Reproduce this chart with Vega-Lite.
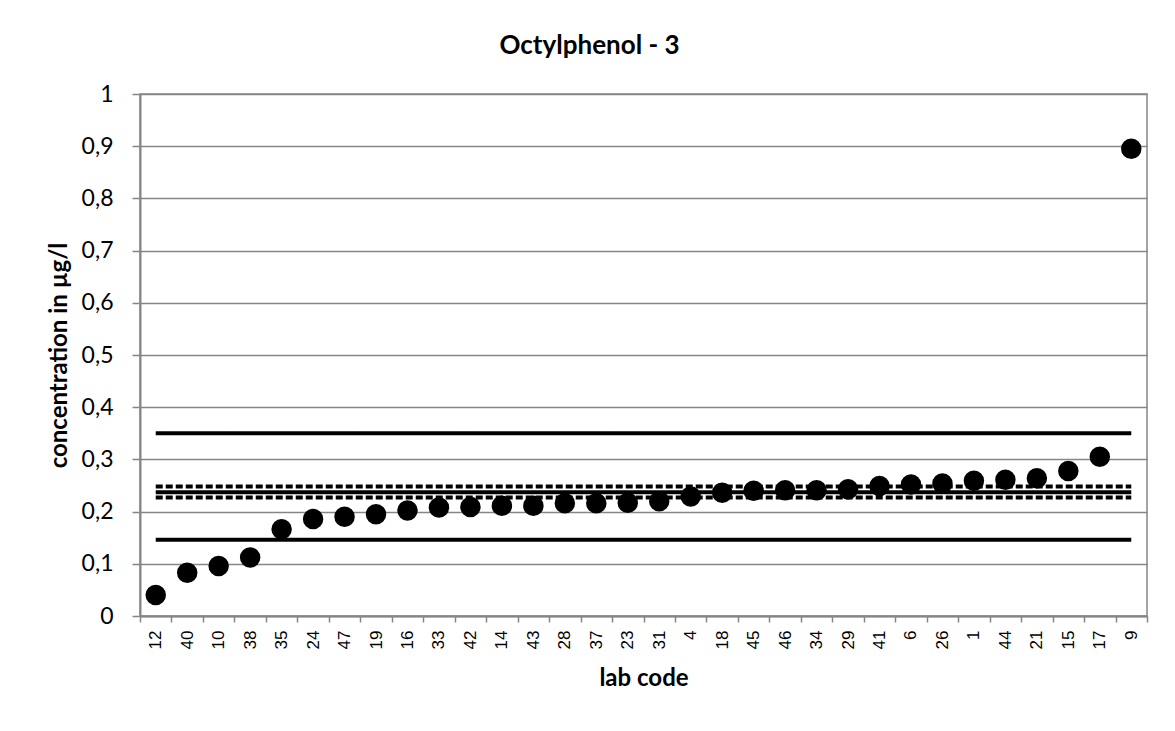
{
  "$schema": "https://vega.github.io/schema/vega-lite/v6.json",
  "width": 1007,
  "height": 522,
  "autosize": "none",
  "padding": {"left": 140, "top": 94, "right": 28, "bottom": 115},
  "background": "white",
  "title": {
    "text": "Octylphenol - 3",
    "font": "Lato",
    "fontSize": 26,
    "fontWeight": "bold",
    "color": "black",
    "anchor": "middle",
    "dx": -54,
    "offset": 24
  },
  "datasets": {
    "labs": [
      {"lab": "12", "conc": 0.040},
      {"lab": "40", "conc": 0.083},
      {"lab": "10", "conc": 0.096},
      {"lab": "38", "conc": 0.112},
      {"lab": "35", "conc": 0.166},
      {"lab": "24", "conc": 0.186},
      {"lab": "47", "conc": 0.190},
      {"lab": "19", "conc": 0.195},
      {"lab": "16", "conc": 0.202},
      {"lab": "33", "conc": 0.208},
      {"lab": "42", "conc": 0.209},
      {"lab": "14", "conc": 0.211},
      {"lab": "43", "conc": 0.211},
      {"lab": "28", "conc": 0.216},
      {"lab": "37", "conc": 0.216},
      {"lab": "23", "conc": 0.217},
      {"lab": "31", "conc": 0.220},
      {"lab": "4", "conc": 0.229},
      {"lab": "18", "conc": 0.236},
      {"lab": "45", "conc": 0.240},
      {"lab": "46", "conc": 0.241},
      {"lab": "34", "conc": 0.241},
      {"lab": "29", "conc": 0.243},
      {"lab": "41", "conc": 0.249},
      {"lab": "6", "conc": 0.252},
      {"lab": "26", "conc": 0.254},
      {"lab": "1", "conc": 0.259},
      {"lab": "44", "conc": 0.261},
      {"lab": "21", "conc": 0.264},
      {"lab": "15", "conc": 0.278},
      {"lab": "17", "conc": 0.305},
      {"lab": "9", "conc": 0.895}
    ],
    "refs": [
      {"lab": "12", "value": 0.35, "line": "upper limit"},
      {"lab": "9", "value": 0.35, "line": "upper limit"},
      {"lab": "12", "value": 0.146, "line": "lower limit"},
      {"lab": "9", "value": 0.146, "line": "lower limit"},
      {"lab": "12", "value": 0.237, "line": "mean"},
      {"lab": "9", "value": 0.237, "line": "mean"},
      {"lab": "12", "value": 0.248, "line": "mean + u"},
      {"lab": "9", "value": 0.248, "line": "mean + u"},
      {"lab": "12", "value": 0.227, "line": "mean - u"},
      {"lab": "9", "value": 0.227, "line": "mean - u"}
    ]
  },
  "encoding": {
    "x": {
      "field": "lab",
      "type": "nominal",
      "sort": null,
      "scale": {
        "type": "band",
        "paddingInner": 0,
        "paddingOuter": 0,
        "domain": ["12","40","10","38","35","24","47","19","16","33","42","14","43","28","37","23","31","4","18","45","46","34","29","41","6","26","1","44","21","15","17","9"]
      },
      "axis": {
        "title": "lab code",
        "labelAngle": -90,
        "tickBand": "extent",
        "tickSize": 6,
        "tickColor": "#868686",
        "tickWidth": 1.5,
        "domainColor": "#868686",
        "domainWidth": 2,
        "labelPadding": 8,
        "labelFont": "Arial, Liberation Sans, sans-serif",
        "labelFontSize": 17,
        "labelColor": "black",
        "titleFont": "Lato",
        "titleFontSize": 24,
        "titleFontWeight": "bold",
        "titleColor": "black",
        "titlePadding": 18,
        "grid": false
      }
    }
  },
  "layer": [
    {
      "data": {"name": "refs"},
      "mark": {"type": "line"},
      "encoding": {
        "y": {"field": "value", "type": "quantitative", "scale": {"domain": [0, 1]}},
        "detail": {"field": "line", "type": "nominal"},
        "color": {"value": "black"},
        "strokeWidth": {
          "field": "line", "type": "nominal", "legend": null,
          "scale": {"domain": ["upper limit", "lower limit", "mean", "mean + u", "mean - u"], "range": [4, 4, 4, 2, 2]}
        },
        "strokeDash": {
          "field": "line", "type": "nominal", "legend": null,
          "scale": {"domain": ["upper limit", "lower limit", "mean", "mean + u", "mean - u"], "range": [[1, 0], [1, 0], [1, 0], [7, 3], [7, 3]]}
        }
      }
    },
    {
      "data": {"name": "labs"},
      "mark": {"type": "circle", "size": 420, "opacity": 1, "color": "black"},
      "encoding": {
        "y": {
          "field": "conc",
          "type": "quantitative",
          "scale": {"domain": [0, 1]},
          "axis": {
            "title": "concentration in µg/l",
            "values": [0, 0.1, 0.2, 0.3, 0.4, 0.5, 0.6, 0.7, 0.8, 0.9, 1],
            "labelExpr": "replace(format(datum.value, '.1~f'), '.', ',')",
            "grid": true,
            "gridColor": "#868686",
            "gridWidth": 1.3,
            "tickSize": 8,
            "tickColor": "#868686",
            "tickWidth": 1.5,
            "domainColor": "#868686",
            "domainWidth": 2,
            "labelPadding": 19,
            "labelFont": "Lato",
            "labelFontSize": 23,
            "labelColor": "black",
            "titleFont": "Lato",
            "titleFontSize": 24,
            "titleFontWeight": "bold",
            "titleColor": "black",
            "titlePadding": 10
          }
        }
      }
    }
  ],
  "config": {
    "view": {"stroke": "#868686", "strokeWidth": 1.5}
  }
}
